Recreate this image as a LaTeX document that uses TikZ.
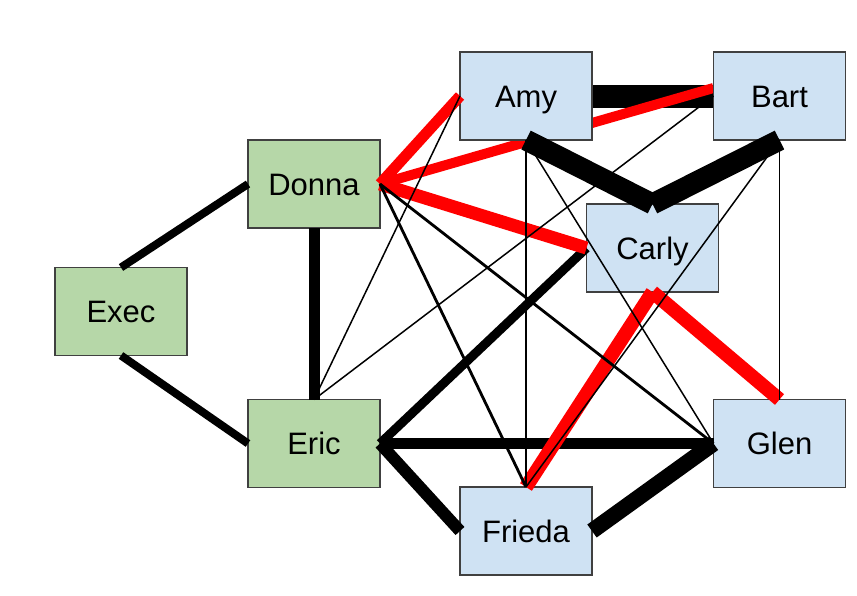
\documentclass[tikz,border=0pt]{standalone}
\usepackage{fontspec}
\setmainfont{Liberation Sans}
\usetikzlibrary{backgrounds}
\definecolor{boxgreen}{HTML}{B6D7A8}
\definecolor{boxblue}{HTML}{CFE2F3}
\definecolor{boxline}{HTML}{404040}
\definecolor{linkred}{HTML}{FF0000}
\begin{document}
\begin{tikzpicture}[x=1pt,y=-1pt,
  person/.style={rectangle,draw=boxline,line width=1.5pt,minimum width=132pt,minimum height=88pt,inner sep=0pt,outer sep=0pt,text height=22.2pt,text depth=0pt,font=\fontsize{31}{36}\selectfont},
  grn/.style={person,fill=boxgreen},
  blu/.style={person,fill=boxblue},
  link/.style={draw=black,line cap=butt},
  redlink/.style={draw=linkred,line cap=butt},
  thinlink/.style={draw=black,line width=1.5pt},
  medlink/.style={draw=black,line width=2.8pt}]
\useasboundingbox (0,0) rectangle (857,595);
\node[blu] (amy) at (526,96) {Amy};
\node[blu] (bart) at (779.5,96) {Bart};
\node[grn] (donna) at (314,184) {Donna};
\node[blu] (carly) at (652.5,248) {Carly};
\node[grn] (exec) at (121,311.5) {Exec};
\node[grn] (eric) at (314,443.5) {Eric};
\node[blu] (glen) at (779.5,443.5) {Glen};
\node[blu] (frieda) at (526,531) {Frieda};
\coordinate (bartin) at ([yshift=8pt]bart.west);
% links passing behind Amy
\begin{scope}[on background layer]
\draw[link,line width=23pt] (amy.east) -- (bart.west);
\draw[redlink,line width=10pt] (donna.east) -- (bartin);
\end{scope}
% thick black links
\draw[link,line width=8pt] (exec.north) -- (donna.west);
\draw[link,line width=8pt] (exec.south) -- (eric.west);
\draw[link,line width=11pt] (donna.south) -- (eric.north);
\draw[link,line width=21pt] (amy.south) -- (carly.north);
\draw[link,line width=21pt] (bart.south) -- (carly.north);
\draw[link,line width=9pt] (carly.west) -- (eric.east);
\draw[link,line width=11pt] (eric.east) -- (glen.west);
\draw[link,line width=12pt] (eric.east) -- (frieda.west);
\draw[link,line width=16pt] (frieda.east) -- (glen.west);
% red links
\draw[redlink,line width=11pt] (donna.east) -- (amy.west);
\draw[redlink,line width=13pt] (donna.east) -- (carly.west);
\draw[redlink,line width=14pt] (carly.south) -- (frieda.north);
\draw[redlink,line width=14pt] (carly.south) -- (glen.north);
% medium links
\draw[medlink] (donna.east) -- (frieda.north);
\draw[medlink] (donna.east) -- (glen.west);
% thin links
\draw[thinlink] (amy.west) -- (eric.north);
\draw[thinlink] (bart.west) -- (eric.north);
\draw[thinlink] (amy.south) -- (frieda.north);
\draw[thinlink] (amy.south) -- (glen.west);
\draw[thinlink] (bart.south) -- (frieda.north);
\draw[thinlink] (bart.south) -- (glen.north);
\end{tikzpicture}
\end{document}
